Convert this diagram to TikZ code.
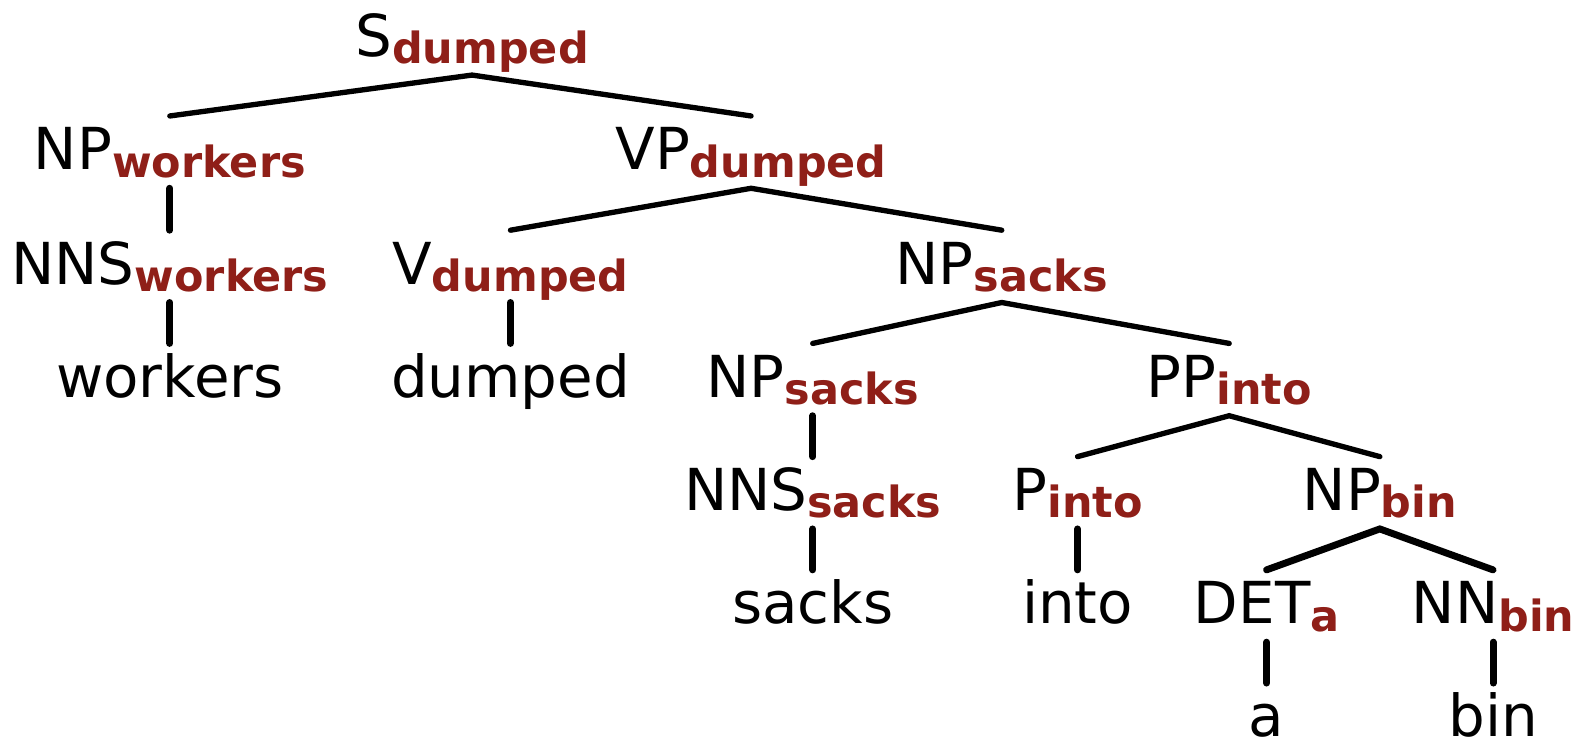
\documentclass[tikz,border=0pt]{standalone}
\usepackage{fontspec}
\setmainfont{DejaVu Sans}
\definecolor{headred}{RGB}{143,31,24}
\newcommand\hd[1]{\raisebox{-5.5pt}{\fontsize{32.2}{32}\selectfont\bfseries\color{headred}#1}}
\begin{document}
\begin{tikzpicture}[x=0.7581pt,y=-0.7581pt,
  lbl/.style={anchor=base,inner sep=0pt,text height=53*0.7581pt,text depth=18*0.7581pt,
    font=\fontsize{43.4}{43.4}\selectfont},
  edge/.style={line width=4pt,line cap=round},
  vedge/.style={line width=5.2pt,line cap=round}]
\useasboundingbox (0,0) rectangle (1568,733);
% level 0
\node[lbl] (S) at (467,56) {S\hd{dumped}};
% level 1
\node[lbl] (NPw) at (168,168) {NP\hd{workers}};
\node[lbl] (VP) at (743,168) {VP\hd{dumped}};
% level 2
\node[lbl] (NNSw) at (168,281) {NNS\hd{workers}};
\node[lbl] (V) at (505,281) {V\hd{dumped}};
\node[lbl] (NPs) at (991,281) {NP\hd{sacks}};
% level 3
\node[lbl] (workers) at (168,393) {workers};
\node[lbl] (dumped) at (505,393) {dumped};
\node[lbl] (NPs2) at (804,393) {NP\hd{sacks}};
\node[lbl] (PP) at (1216,393) {PP\hd{into}};
% level 4
\node[lbl] (NNSs) at (804,505) {NNS\hd{sacks}};
\node[lbl] (P) at (1066,505) {P\hd{into}};
\node[lbl] (NPb) at (1365,505) {NP\hd{bin}};
% level 5
\node[lbl] (sacks) at (804,617) {sacks};
\node[lbl] (into) at (1066,617) {into};
\node[lbl] (DET) at (1253,617) {DET\hd{a}};
\node[lbl] (NN) at (1477,617) {NN\hd{bin}};
% level 6
\node[lbl] (a) at (1253,729) {a};
\node[lbl] (bin) at (1477,729) {bin};
% edges
\draw[edge] (NPw.north) -- (S.south) -- (VP.north);
\draw[vedge] (NPw.south) -- (NNSw.north);
\draw[vedge] (NNSw.south) -- (workers.north);
\draw[edge] (V.north) -- (VP.south) -- (NPs.north);
\draw[vedge] (V.south) -- (dumped.north);
\draw[edge] (NPs2.north) -- (NPs.south) -- (PP.north);
\draw[vedge] (NPs2.south) -- (NNSs.north);
\draw[vedge] (NNSs.south) -- (sacks.north);
\draw[edge] (P.north) -- (PP.south) -- (NPb.north);
\draw[vedge] (P.south) -- (into.north);
\draw[vedge] (DET.north) -- (NPb.south) -- (NN.north);
\draw[vedge] (DET.south) -- (a.north);
\draw[vedge] (NN.south) -- (bin.north);
\end{tikzpicture}
\end{document}
